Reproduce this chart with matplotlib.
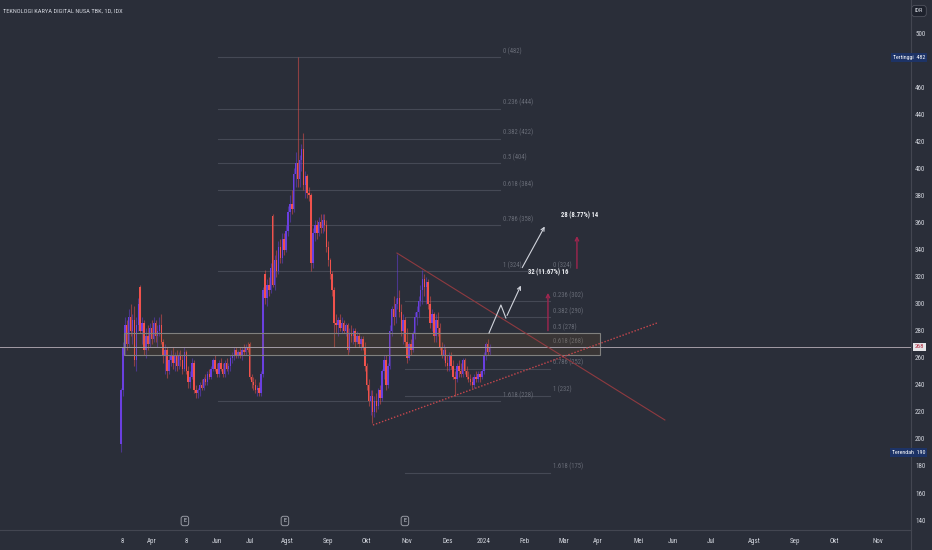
import matplotlib
matplotlib.use('Agg')
import matplotlib.pyplot as plt
import matplotlib.transforms as mtransforms
from matplotlib import font_manager
from matplotlib.patches import Rectangle
import numpy as np

# choose a condensed face if one is installed
_names = {(f.name, f.stretch) for f in font_manager.fontManager.ttflist}
FAMILY = ['DejaVu Sans']
STRETCH = 'normal'
for cand in ['Liberation Sans Narrow', 'Roboto Condensed', 'Open Sans Condensed', 'Noto Sans Condensed']:
    if any(n == cand for n, s in _names):
        FAMILY = [cand, 'DejaVu Sans']
        break
else:
    if any(n == 'DejaVu Sans' and str(s) in ('condensed', '500', 'semi-condensed') for n, s in _names):
        STRETCH = 'condensed'
plt.rcParams['font.family'] = FAMILY
plt.rcParams['font.stretch'] = STRETCH

title = "TEKNOLOGI KARYA DIGITAL NUSA TBK, 1D, IDX"

opens = [196,236,268,284,270,290,280,288,258,284,
         312,280,286,266,276,270,282,274,286,276,
         280,284,272,262,266,250,258,262,256,262,
         254,262,258,252,264,250,242,246,256,236,
         234,236,240,238,244,242,248,246,252,258,
         252,248,256,252,248,256,252,254,260,262,
         266,262,264,262,266,264,268,270,246,242,
         240,236,238,234,248,322,304,314,310,365,
         314,332,324,342,334,348,340,354,368,374,
         370,396,404,392,406,414,388,394,382,380,
         330,352,358,352,360,356,362,358,342,332,
         322,310,286,284,288,282,286,280,284,266,
         278,276,280,272,276,270,274,268,254,240,
         228,232,220,228,224,236,230,250,258,240,
         254,280,296,290,300,304,294,280,288,272,
         260,270,266,278,290,294,302,310,318,312,
         316,300,286,292,276,288,282,268,262,266,
         256,254,262,254,246,244,254,250,248,258,
         250,246,244,242,240,246,244,248,246,250,
         262,270,264]
highs = [238,272,290,288,296,300,292,298,290,304,
         314,290,288,282,284,286,288,290,288,284,
         290,292,274,270,268,262,266,268,264,266,
         264,266,262,268,266,254,250,260,258,240,
         238,242,244,246,248,250,252,254,260,262,
         256,258,260,256,258,260,256,262,264,268,
         268,266,268,268,270,270,272,272,248,246,
         244,240,242,250,312,325,318,320,330,366,
         336,340,346,348,352,352,358,372,380,384,
         400,412,482,410,418,426,398,396,386,382,
         356,362,362,364,366,366,366,362,346,334,
         324,312,292,290,292,290,288,286,286,282,
         284,282,282,280,278,276,276,272,256,244,
         236,236,232,234,238,240,252,262,262,256,
         284,298,306,304,337,310,300,292,290,282,
         272,274,280,294,298,306,314,325,322,320,
         318,306,296,294,292,294,286,272,270,268,
         262,264,264,258,250,256,258,256,260,260,
         254,250,248,246,248,250,250,250,252,264,
         272,274,270]
lows = [190,232,262,266,268,276,270,254,250,280,
        278,270,262,260,266,268,270,272,272,268,
        276,270,256,248,245,248,254,252,250,250,
        252,254,248,250,248,238,238,244,234,230,
        230,232,236,236,240,240,244,244,250,250,
        246,246,250,246,246,250,248,250,256,258,
        260,260,260,258,262,262,264,244,238,236,
        234,232,232,232,246,300,298,306,308,312,
        310,320,322,330,330,336,338,350,360,366,
        368,386,386,386,398,384,378,378,376,324,
        326,346,348,350,352,352,354,338,328,318,
        306,268,278,276,280,278,278,276,262,264,
        272,270,268,270,268,266,266,250,236,224,
        218,212,216,220,222,226,228,244,236,238,
        252,276,284,286,296,290,276,270,268,256,
        258,262,264,274,284,290,298,300,306,300,
        296,282,280,272,272,276,266,260,258,254,
        250,250,252,244,232,242,246,246,246,248,
        244,242,240,238,238,242,242,242,244,248,
        258,262,262]
closes = [236,268,284,270,290,280,288,258,284,300,
          280,286,266,276,270,282,274,286,276,280,
          284,272,262,266,250,258,262,256,262,254,
          262,258,252,264,250,242,246,256,236,234,
          236,240,238,244,242,248,246,252,258,252,
          248,256,252,248,256,252,254,260,262,266,
          262,264,262,266,264,268,266,246,242,240,
          236,238,234,248,310,304,314,310,326,314,
          332,324,342,334,348,340,354,368,374,370,
          396,404,392,406,414,388,394,382,380,330,
          352,358,352,360,356,362,358,342,332,322,
          310,286,284,288,282,286,280,284,266,278,
          276,280,272,276,270,274,268,254,240,228,
          232,220,228,224,236,230,250,258,240,254,
          280,296,290,300,304,294,280,288,272,260,
          270,266,278,290,294,302,310,318,312,316,
          300,286,292,276,288,282,268,262,266,256,
          254,262,254,246,244,254,250,248,258,250,
          246,244,242,240,246,244,248,246,250,262,
          270,264,268]

# time axis (bar index positions of labels)
month_labels = ["8", "Apr", "8", "Jun", "Jul", "Agst", "Sep", "Okt", "Nov", "Des", "2024",
                "Feb", "Mar", "Apr", "Mei", "Jun", "Jul", "Agst", "Sep", "Okt", "Nov"]
month_pos = [0.5, 16.1, 33.9, 50.0, 67.2, 86.5, 107.8, 127.6, 148.9, 170.3, 189.1,
             210.4, 230.7, 248.4, 269.8, 287.5, 307.3, 329.7, 351.0, 371.4, 394.3]
# 480 is hidden behind the "Tertinggi" tag in the reference
price_ticks = [140, 160, 180, 200, 220, 240, 260, 280, 300, 320, 340, 360, 380, 400, 420, 440, 460, 500]

# Fibonacci retracements
fib_ratios = ["0", "0.236", "0.382", "0.5", "0.618", "0.786", "1", "1.618"]
fib1_prices = [482, 444, 422, 404, 384, 358, 324, 228]
fib1_span = (50.5, 197.4)
fib2_prices = [324, 302, 290, 278, 268, 252, 232, 175]
fib2_span = (147.9, 223.4)

# zone, lines, projections (bar index, price)
zone_span = (1.6, 249.5)
zone_prices = (262, 278.3)
last_price = 268
high_price, low_price = 482, 190
down_trend = ([143.75, 283.3], [337.4, 214.0])
up_trend = ([131.25, 279.2], [210.3, 285.7])
path_x = [191.7, 197.9, 200.5]
path_y = [278.3, 299.0, 289.4]
path_tip = (208.9, 315.2)
arrow2 = ((208.3, 324.8), (221.4, 358.8))
range1 = (222.4, 278, 310, "32 (11.67%) 16", 222.4, 323.4)
range2 = (237.5, 324, 352, "28 (8.77%) 14", 239.0, 365.5)
earnings_pos = [33.3, 85.4, 147.9]

BG = '#2a2e39'
TXT = '#d1d4dc'
UP = '#6a3fe0'
DOWN = '#f0524c'

W, H = 932, 550
fig = plt.figure(figsize=(W/100, H/100), dpi=100, facecolor=BG)
ax = fig.add_axes([0, 20/H, 911/W, 530/H], facecolor=BG)

o = np.array(opens, float); h = np.array(highs, float)
l = np.array(lows, float); c = np.array(closes, float)
x = np.arange(len(c))
cols = np.where(c >= o, UP, DOWN)
ax.vlines(x, l, h, colors=cols, lw=0.8, alpha=0.5, zorder=3)
body = np.maximum(np.abs(c - o), 0.8)
ax.bar(x, body, bottom=np.minimum(o, c), width=0.75, color=cols, lw=0, zorder=4)

# fib levels
FIBL = '#454955'
FIBT = '#686c77'
for span, prices in ((fib1_span, fib1_prices), (fib2_span, fib2_prices)):
    for r, p in zip(fib_ratios, prices):
        ax.plot(span, [p, p], color=FIBL, lw=0.8, zorder=2)
        ax.annotate(f"{r} ({p})", (span[1], p), xytext=(2.5, 1.5), textcoords='offset points',
                    fontsize=4.8, color=FIBT, va='bottom', ha='left')

# zone
ax.add_patch(Rectangle((zone_span[0], zone_prices[0]), zone_span[1] - zone_span[0],
                       zone_prices[1] - zone_prices[0], facecolor=(150/255, 100/255, 30/255, 0.14),
                       edgecolor='#80807e', lw=0.8, zorder=5))

# current price line
ax.axhline(last_price, color='#a39ca6', lw=0.7, zorder=5)

# trend lines
ax.plot(*down_trend, color='#8e3a40', lw=0.8, zorder=6)
ax.plot(*up_trend, color='#c9474d', lw=1.0, ls=(0, (1, 1.3)), zorder=6)

# projection path
ax.plot(path_x, path_y, color=TXT, lw=0.8, zorder=7)
ax.annotate('', xy=path_tip, xytext=(path_x[-1], path_y[-1]),
            arrowprops=dict(arrowstyle='->', color=TXT, lw=0.8, mutation_scale=6), zorder=7)
ax.annotate('', xy=arrow2[1], xytext=arrow2[0],
            arrowprops=dict(arrowstyle='->', color=TXT, lw=0.8, mutation_scale=6), zorder=7)

for xi, p0, p1, lab, lx, ly in (range1, range2):
    ax.annotate('', xy=(xi, p1), xytext=(xi, p0),
                arrowprops=dict(arrowstyle='->', color='#a0264f', lw=1.0, mutation_scale=6), zorder=7)
    ax.text(lx, ly, lab, fontsize=4.8, color='#eef0f4', ha='center', va='center',
            fontweight='bold', zorder=8)

# earnings markers
bt = mtransforms.blended_transform_factory(ax.transData, ax.transAxes)
for e in earnings_pos:
    ax.text(e, 0.017, "E", transform=bt, fontsize=4.5, color=TXT, ha='center', va='center',
            bbox=dict(boxstyle='round,pad=0.35', facecolor=BG, edgecolor='#9598a1', lw=0.7), zorder=8)

ax.set_xlim(-63.0, 411.5)
ax.set_ylim(132.7, 524.4)
ax.set_xticks(month_pos)
ax.set_xticklabels(month_labels)
ax.yaxis.tick_right()
ax.set_yticks(price_ticks)
ax.set_yticklabels([str(t) for t in price_ticks])
ax.tick_params(axis='both', length=0, colors=TXT, labelsize=5)
ax.tick_params(axis='x', pad=6)
ax.tick_params(axis='y', pad=3)
for s in ('top', 'left'):
    ax.spines[s].set_visible(False)
for s in ('bottom', 'right'):
    ax.spines[s].set_color('#434651')
    ax.spines[s].set_linewidth(0.8)
fig.add_artist(plt.Line2D([911/W, 911/W], [0, 20/H], color='#434651', lw=0.8))

yt = mtransforms.blended_transform_factory(ax.transAxes, ax.transData)
ax.text(1.0155, high_price, f"Tertinggi  {high_price}", transform=yt, fontsize=4.3, color='white',
        ha='right', va='center', bbox=dict(boxstyle='square,pad=0.3', facecolor='#1d3366', lw=0),
        zorder=9, clip_on=False)
ax.text(1.0155, low_price, f"Terendah  {low_price}", transform=yt, fontsize=4.3, color='white',
        ha='right', va='center', bbox=dict(boxstyle='square,pad=0.3', facecolor='#1d3366', lw=0),
        zorder=9, clip_on=False)
ax.text(1.004, last_price, f"{last_price}", transform=yt, fontsize=4.6, color='#b3263a',
        ha='left', va='center', bbox=dict(boxstyle='square,pad=0.3', facecolor='#e6e6e9', lw=0),
        zorder=9, clip_on=False)

fig.text(3/W, 1 - 11/H, title, fontsize=4.6, color=TXT, ha='left', va='center')
fig.text(919/W, 1 - 11/H, "IDR", fontsize=4.5, color=TXT, ha='center', va='center',
         bbox=dict(boxstyle='round,pad=0.5', facecolor='#1e222d', edgecolor='#50535e', lw=0.6))

fig.savefig('out.png', dpi=100, facecolor=BG)
